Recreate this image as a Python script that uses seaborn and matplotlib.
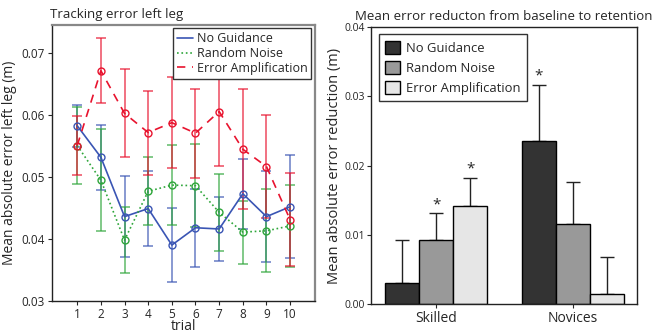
import numpy as np
import pandas as pd
import matplotlib
matplotlib.use("Agg")
import matplotlib.pyplot as plt
import seaborn as sns

# ── Data: tracking error per trial (left leg) ──────────────────────────────────
trials = [1, 2, 3, 4, 5, 6, 7, 8, 9, 10]
no_guidance = [0.0583, 0.0532, 0.0436, 0.0449, 0.0390, 0.0418, 0.0416, 0.0473, 0.0436, 0.0452]
no_guidance_err = [0.0034, 0.0053, 0.0065, 0.0060, 0.0060, 0.0063, 0.0052, 0.0057, 0.0073, 0.0083]
random_noise = [0.0551, 0.0495, 0.0398, 0.0477, 0.0487, 0.0486, 0.0443, 0.0411, 0.0413, 0.0421]
random_noise_err = [0.0063, 0.0082, 0.0053, 0.0055, 0.0065, 0.0067, 0.0062, 0.0051, 0.0067, 0.0066]
error_amp = [0.0551, 0.0672, 0.0603, 0.0572, 0.0588, 0.0571, 0.0606, 0.0545, 0.0517, 0.0431]
error_amp_err = [0.0048, 0.0053, 0.0071, 0.0068, 0.0074, 0.0072, 0.0088, 0.0097, 0.0083, 0.0075]

# ── Data: error reduction baseline -> retention ───────────────────────────────
groups = ["Skilled", "Novices"]
conditions = ["No Guidance", "Random Noise", "Error Amplification"]
reduction = {
    "No Guidance": [0.0031, 0.0236],
    "Random Noise": [0.0092, 0.0115],
    "Error Amplification": [0.0141, 0.0015],
}
reduction_err = {
    "No Guidance": [0.0062, 0.0081],
    "Random Noise": [0.0039, 0.0062],
    "Error Amplification": [0.0041, 0.0053],
}
significant = {
    "No Guidance": [False, True],
    "Random Noise": [True, False],
    "Error Amplification": [True, False],
}

line_colors = {"No Guidance": "#3a55b4", "Random Noise": "#2ea63a", "Error Amplification": "#e8132e"}
line_styles = {"No Guidance": "-", "Random Noise": ":", "Error Amplification": (0, (5, 4))}
bar_colors = ["#333333", "#999999", "#e6e6e6"]

sns.set_style("ticks")
plt.rcParams["font.family"] = ["Open Sans", "DejaVu Sans"]
plt.rcParams["font.size"] = 9

fig = plt.figure(figsize=(6.54, 3.33), dpi=100)
ax1 = fig.add_axes([0.079, 0.097, 0.4026, 0.828])
ax2 = fig.add_axes([0.567, 0.087, 0.4067, 0.831])

# ── Left panel ────────────────────────────────────────────────────────────────
long = pd.DataFrame({
    "trial": trials * 3,
    "value": no_guidance + random_noise + error_amp,
    "err": no_guidance_err + random_noise_err + error_amp_err,
    "condition": ["No Guidance"] * 10 + ["Random Noise"] * 10 + ["Error Amplification"] * 10,
})

for cond in conditions:
    sub = long[long["condition"] == cond]
    ax1.errorbar(sub["trial"], sub["value"], yerr=sub["err"], fmt="none",
                 ecolor=line_colors[cond], alpha=0.7, elinewidth=1.2,
                 capsize=3.5, capthick=1.2, zorder=2)

for cond in conditions:
    sub = long[long["condition"] == cond]
    sns.lineplot(data=sub, x="trial", y="value", ax=ax1, color=line_colors[cond],
                 linestyle=line_styles[cond], linewidth=1.2, marker="o",
                 markersize=5, markerfacecolor="none",
                 markeredgecolor=line_colors[cond], markeredgewidth=1.0,
                 label=cond, zorder=3)

ax1.set_xlim(-0.08, 11.05)
ax1.set_ylim(0.03, 0.0746)
ax1.set_xticks(trials)
ax1.set_yticks([0.03, 0.04, 0.05, 0.06, 0.07])
ax1.set_yticklabels(["0.03", "0.04", "0.05", "0.06", "0.07"])
ax1.set_xlabel("trial", fontsize=10, labelpad=-1)
ax1.set_ylabel("Mean absolute error left leg (m)", fontsize=10, labelpad=3)
ax1.set_title("Tracking error left leg", fontsize=9.5, loc="left", x=-0.005, pad=5)
ax1.tick_params(labelsize=8.5, length=3, width=0.8, pad=2)
for side in ["top", "right"]:
    ax1.spines[side].set_color("#888888")
    ax1.spines[side].set_linewidth(1.6)
for side in ["left", "bottom"]:
    ax1.spines[side].set_color("#222222")
    ax1.spines[side].set_linewidth(1.0)

leg1 = ax1.legend(loc="upper right", bbox_to_anchor=(0.995, 0.997), fontsize=9.0,
                  frameon=True, fancybox=False, handlelength=1.3, handletextpad=0.3,
                  borderpad=0.3, labelspacing=0.15, borderaxespad=0.2)
leg1.get_frame().set_edgecolor("#333333")
leg1.get_frame().set_linewidth(1.0)
leg1.get_frame().set_alpha(1)
for h in leg1.legend_handles:
    h.set_marker("")

# ── Right panel ───────────────────────────────────────────────────────────────
bars = pd.DataFrame({
    "group": groups * 3,
    "condition": [c for c in conditions for _ in groups],
    "value": reduction["No Guidance"] + reduction["Random Noise"] + reduction["Error Amplification"],
})
sns.barplot(data=bars, x="group", y="value", hue="condition", hue_order=conditions,
            palette=bar_colors, width=0.75, edgecolor="black", linewidth=1.0,
            errorbar=None, ax=ax2, zorder=2)

for cond, container in zip(conditions, ax2.containers):
    for i, patch in enumerate(container.patches):
        xc = patch.get_x() + patch.get_width() / 2
        top = patch.get_height()
        err = reduction_err[cond][i]
        ax2.errorbar([xc], [top], yerr=[[0], [err]], fmt="none", ecolor="#222222",
                     elinewidth=1.0, capsize=5, capthick=1.0, zorder=1)
        if significant[cond][i]:
            ax2.text(xc, top + err + 0.0002, "*", ha="center", va="bottom", fontsize=11)

ax2.set_xlim(-0.478, 1.468)
ax2.set_ylim(0, 0.04)
ax2.set_yticks([0, 0.01, 0.02, 0.03, 0.04])
ax2.set_yticklabels(["0.00", "0.01", "0.02", "0.03", "0.04"])
ax2.set_xlabel("")
ax2.set_ylabel("Mean absolute error reduction (m)", fontsize=10.5, labelpad=2)
ax2.set_title("Mean error reducton from baseline to retention", fontsize=9.5, pad=5)
ax2.tick_params(axis="y", labelsize=7.5, length=3, width=0.8, pad=1)
ax2.tick_params(axis="x", labelsize=10, length=3, width=0.8, pad=2)
for side in ["top", "right", "left", "bottom"]:
    ax2.spines[side].set_color("#222222")
    ax2.spines[side].set_linewidth(1.0)

leg2 = ax2.legend(loc="upper left", bbox_to_anchor=(0.02, 0.985), fontsize=9.4,
                  frameon=True, fancybox=False, handlelength=1.1, handleheight=1.2,
                  handletextpad=0.5, borderpad=0.5, labelspacing=0.45, borderaxespad=0.2)
leg2.get_frame().set_edgecolor("#333333")
leg2.get_frame().set_linewidth(1.0)
leg2.get_frame().set_alpha(1)

fig.savefig("out.png", dpi=100)
